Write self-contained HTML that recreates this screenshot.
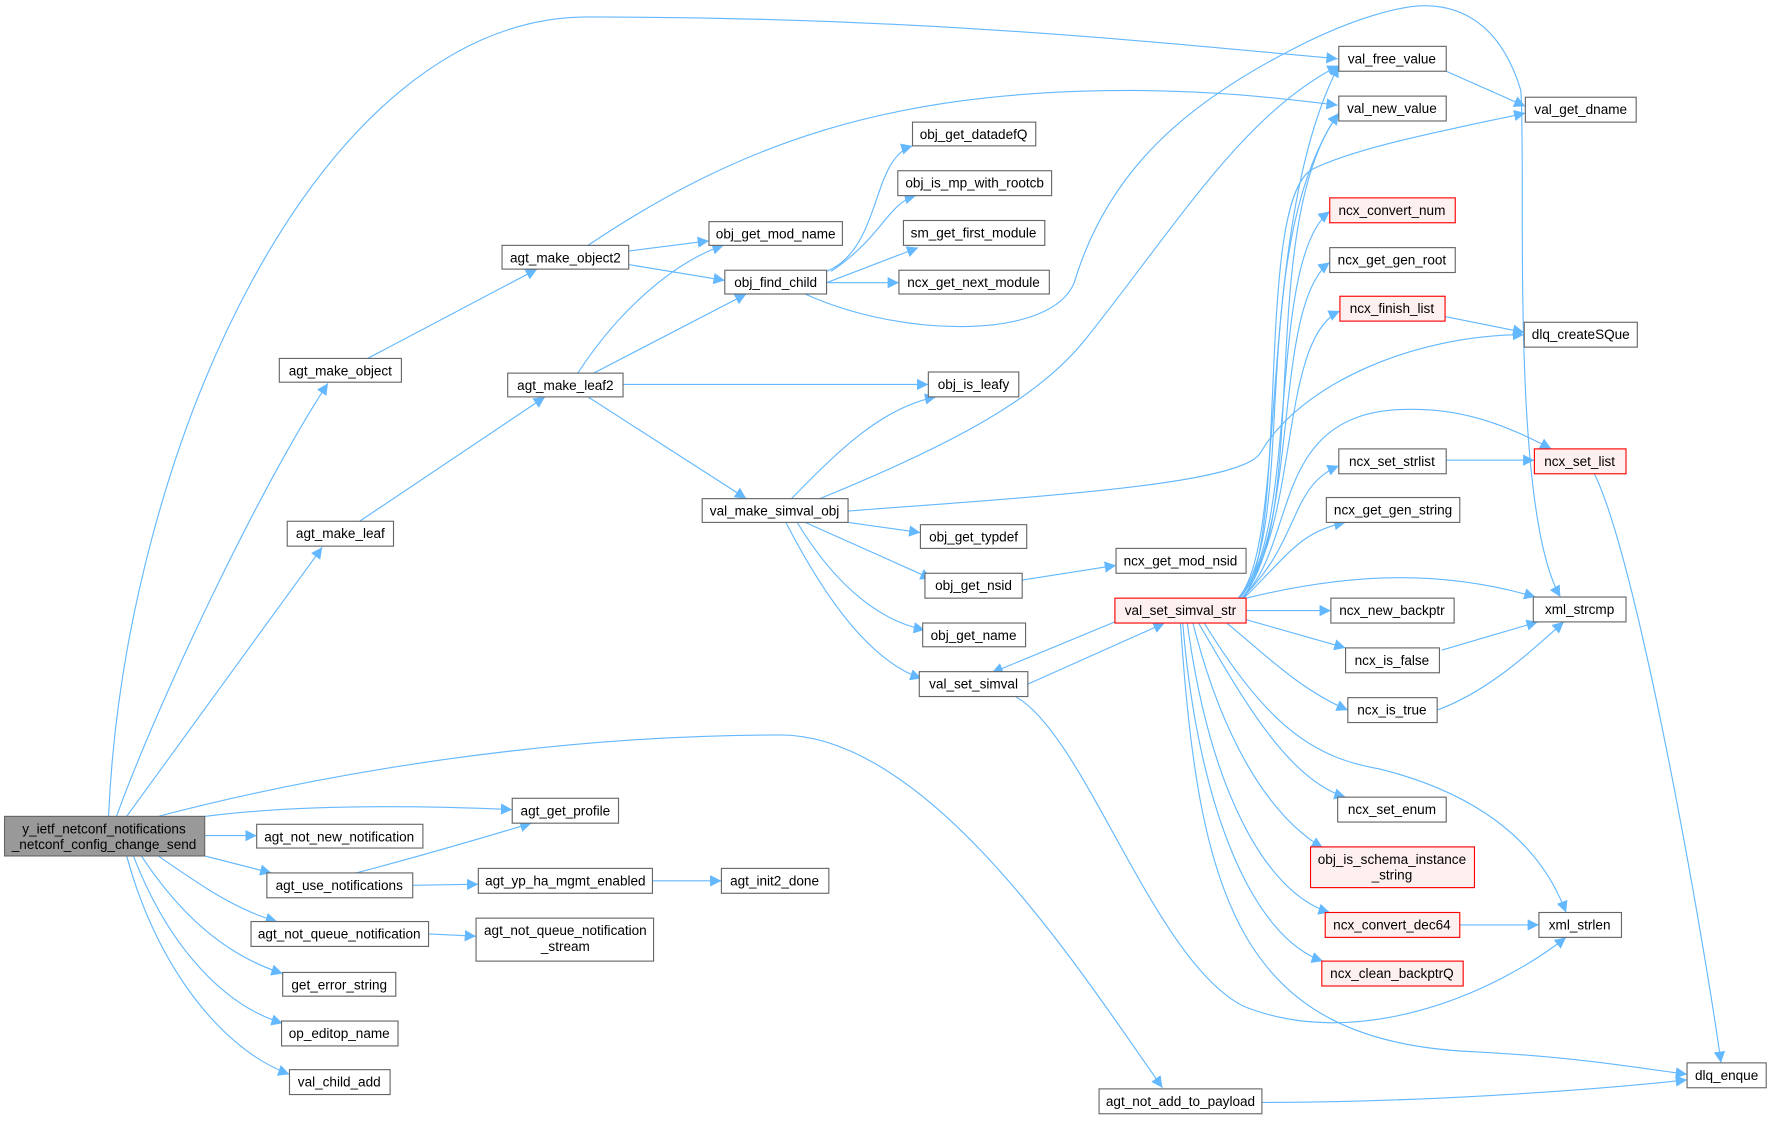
<!DOCTYPE html>
<html><head><meta charset="utf-8"><style>
html,body{margin:0;padding:0;background:#fff;}
svg{display:block;}
text{font-family:"Liberation Sans",Arial,sans-serif;font-size:12px;fill:#000;}
.n rect{fill:#fff;stroke:#666;stroke-width:1;}
.r rect{fill:#fff0f0;stroke:#f00;stroke-width:1;}
path.e{fill:none;stroke:#63b8ff;stroke-width:1;}
</style></head><body>
<svg width="1773" height="1121" viewBox="0 0 1568 991.4" xmlns="http://www.w3.org/2000/svg">
<defs><marker id="a" viewBox="0 0 10 10" refX="10" refY="5" markerWidth="10" markerHeight="10" markerUnits="userSpaceOnUse" orient="auto"><path d="M0,0 L10,5 L0,10 z" fill="#63b8ff"/></marker></defs>
<g marker-end="url(#a)">
<path class="e" d="M96,722 C110,400 280,15 520,15 C800,15 1000,35 1183,52"/>
<path class="e" d="M103,722 C140,620 230,430 290,339"/>
<path class="e" d="M112,722 L285,484"/>
<path class="e" d="M140,722 C300,680 500,650 690,650 C820,650 950,850 1028,962"/>
<path class="e" d="M181,722 C260,712 360,712 453,716"/>
<path class="e" d="M181,739 L227,739"/>
<path class="e" d="M181,757 L240,772"/>
<path class="e" d="M140,757 C180,785 210,805 245,815"/>
<path class="e" d="M125,757 C160,810 200,845 250,861"/>
<path class="e" d="M118,757 C150,840 200,890 250,905"/>
<path class="e" d="M112,757 C140,860 200,930 256,950"/>
<path class="e" d="M315,772 C380,755 430,740 470,728"/>
<path class="e" d="M365,783 L423,782"/>
<path class="e" d="M577,779 L638,779"/>
<path class="e" d="M379,826 L421,828"/>
<path class="e" d="M325,317 L475,238"/>
<path class="e" d="M318,461 L482,351"/>
<path class="e" d="M520,217 C650,130 780,80 1000,80 C1080,80 1140,88 1183,93"/>
<path class="e" d="M556,222 L627,213"/>
<path class="e" d="M556,234 L641,248"/>
<path class="e" d="M511,330 C550,270 600,230 640,217"/>
<path class="e" d="M525,330 L660,260"/>
<path class="e" d="M551,340 L821,340"/>
<path class="e" d="M520,351 L660,441"/>
<path class="e" d="M731,240 C780,220 770,140 807,129"/>
<path class="e" d="M735,240 C780,210 785,180 810,173"/>
<path class="e" d="M731,250 L812,219"/>
<path class="e" d="M731,250 L795,250"/>
<path class="e" d="M712,260 C800,300 930,300 950,250 C980,150 1050,90 1150,40 C1200,15 1240,5 1260,5 C1300,5 1330,30 1345,80 C1350,150 1335,450 1380,528"/>
<path class="e" d="M700,441 C740,400 780,360 828,351"/>
<path class="e" d="M725,441 C850,390 920,350 960,300 C1040,200 1100,100 1184,58"/>
<path class="e" d="M750,452 C900,440 1100,430 1115,400 C1150,340 1250,296 1348,296"/>
<path class="e" d="M750,462 L814,471"/>
<path class="e" d="M712,462 L824,512"/>
<path class="e" d="M705,462 C740,520 780,550 818,557"/>
<path class="e" d="M695,462 C730,530 770,585 815,600"/>
<path class="e" d="M904,513 L987,500"/>
<path class="e" d="M909,605 L1030,551"/>
<path class="e" d="M986,550 L877,595"/>
<path class="e" d="M898,616 C960,650 1020,850 1100,890 C1200,930 1320,880 1385,829"/>
<path class="e" d="M1095,529 C1140,480 1110,200 1184,58"/>
<path class="e" d="M1095,529 C1150,470 1100,220 1184,100"/>
<path class="e" d="M1098,529 C1160,460 1110,200 1184,100"/>
<path class="e" d="M1100,529 C1140,470 1110,180 1160,150 C1200,130 1280,115 1349,100"/>
<path class="e" d="M1096,529 C1150,470 1120,230 1176,187"/>
<path class="e" d="M1096,529 C1150,470 1125,270 1176,232"/>
<path class="e" d="M1096,529 C1150,470 1130,300 1185,275"/>
<path class="e" d="M1098,529 C1150,480 1120,360 1250,362 C1300,362 1340,380 1372,397"/>
<path class="e" d="M1098,529 C1150,480 1140,430 1184,412"/>
<path class="e" d="M1100,529 C1140,490 1150,470 1190,462"/>
<path class="e" d="M1102,540 L1177,540"/>
<path class="e" d="M1102,529 C1200,505 1280,505 1358,528"/>
<path class="e" d="M1102,548 L1190,573"/>
<path class="e" d="M1085,551 C1120,580 1150,610 1192,628"/>
<path class="e" d="M1275,575 L1360,550"/>
<path class="e" d="M1271,628 C1320,610 1360,570 1383,550"/>
<path class="e" d="M1060,551 C1100,620 1140,690 1190,705"/>
<path class="e" d="M1055,551 C1080,650 1120,720 1170,750"/>
<path class="e" d="M1050,551 C1070,700 1120,790 1176,807"/>
<path class="e" d="M1046,551 C1060,720 1110,830 1170,850"/>
<path class="e" d="M1065,551 C1120,640 1160,670 1220,680 C1300,700 1360,740 1385,807"/>
<path class="e" d="M1044,551 C1060,800 1100,920 1300,930 C1400,935 1450,945 1492,950"/>
<path class="e" d="M1279,63 L1349,94"/>
<path class="e" d="M1278,280 L1348,294"/>
<path class="e" d="M1279,407 L1357,407"/>
<path class="e" d="M1291,818 L1361,818"/>
<path class="e" d="M1410,419 C1450,500 1510,850 1522,940"/>
<path class="e" d="M1116,975 C1250,975 1400,965 1492,955"/>
</g>
<g class="n"><rect x="4" y="722" width="177" height="35" style="fill:#999"/><text x="92" y="737" text-anchor="middle">y_ietf_netconf_notifications</text><text x="92" y="751" text-anchor="middle">_netconf_config_change_send</text></g>
<g class="n"><rect x="247" y="317" width="108" height="21"/><text x="301" y="332" text-anchor="middle">agt_make_object</text></g>
<g class="n"><rect x="254" y="461" width="94" height="22"/><text x="301" y="476" text-anchor="middle">agt_make_leaf</text></g>
<g class="n"><rect x="444" y="217" width="112" height="21"/><text x="500" y="232" text-anchor="middle">agt_make_object2</text></g>
<g class="n"><rect x="449" y="330" width="102" height="21"/><text x="500" y="345" text-anchor="middle">agt_make_leaf2</text></g>
<g class="n"><rect x="627" y="196" width="118" height="21"/><text x="686" y="211" text-anchor="middle">obj_get_mod_name</text></g>
<g class="n"><rect x="641" y="239" width="90" height="21"/><text x="686" y="254" text-anchor="middle">obj_find_child</text></g>
<g class="n"><rect x="807" y="108" width="109" height="21"/><text x="861" y="123" text-anchor="middle">obj_get_datadefQ</text></g>
<g class="n"><rect x="794" y="151" width="136" height="22"/><text x="862" y="166" text-anchor="middle">obj_is_mp_with_rootcb</text></g>
<g class="n"><rect x="799" y="195" width="125" height="22"/><text x="861" y="210" text-anchor="middle">sm_get_first_module</text></g>
<g class="n"><rect x="795" y="239" width="133" height="21"/><text x="861" y="254" text-anchor="middle">ncx_get_next_module</text></g>
<g class="n"><rect x="821" y="329" width="80" height="22"/><text x="861" y="344" text-anchor="middle">obj_is_leafy</text></g>
<g class="n"><rect x="621" y="441" width="129" height="21"/><text x="685" y="456" text-anchor="middle">val_make_simval_obj</text></g>
<g class="n"><rect x="814" y="464" width="94" height="21"/><text x="861" y="479" text-anchor="middle">obj_get_typdef</text></g>
<g class="n"><rect x="818" y="507" width="86" height="22"/><text x="861" y="522" text-anchor="middle">obj_get_nsid</text></g>
<g class="n"><rect x="816" y="551" width="91" height="21"/><text x="861" y="566" text-anchor="middle">obj_get_name</text></g>
<g class="n"><rect x="813" y="594" width="96" height="22"/><text x="861" y="609" text-anchor="middle">val_set_simval</text></g>
<g class="n"><rect x="987" y="485" width="115" height="22"/><text x="1044" y="500" text-anchor="middle">ncx_get_mod_nsid</text></g>
<g class="r"><rect x="986" y="529" width="116" height="22"/><text x="1044" y="544" text-anchor="middle">val_set_simval_str</text></g>
<g class="n"><rect x="1184" y="41" width="95" height="22"/><text x="1231" y="56" text-anchor="middle">val_free_value</text></g>
<g class="n"><rect x="1184" y="85" width="95" height="22"/><text x="1231" y="100" text-anchor="middle">val_new_value</text></g>
<g class="n"><rect x="1349" y="86" width="98" height="22"/><text x="1398" y="101" text-anchor="middle">val_get_dname</text></g>
<g class="r"><rect x="1176" y="175" width="111" height="22"/><text x="1231" y="190" text-anchor="middle">ncx_convert_num</text></g>
<g class="n"><rect x="1176" y="219" width="111" height="22"/><text x="1231" y="234" text-anchor="middle">ncx_get_gen_root</text></g>
<g class="r"><rect x="1185" y="262" width="93" height="22"/><text x="1231" y="277" text-anchor="middle">ncx_finish_list</text></g>
<g class="n"><rect x="1348" y="285" width="100" height="22"/><text x="1398" y="300" text-anchor="middle">dlq_createSQue</text></g>
<g class="n"><rect x="1184" y="397" width="95" height="22"/><text x="1231" y="412" text-anchor="middle">ncx_set_strlist</text></g>
<g class="r"><rect x="1357" y="397" width="81" height="22"/><text x="1397" y="412" text-anchor="middle">ncx_set_list</text></g>
<g class="n"><rect x="1173" y="440" width="118" height="22"/><text x="1232" y="455" text-anchor="middle">ncx_get_gen_string</text></g>
<g class="n"><rect x="1177" y="529" width="109" height="22"/><text x="1231" y="544" text-anchor="middle">ncx_new_backptr</text></g>
<g class="n"><rect x="1356" y="528" width="82" height="22"/><text x="1397" y="543" text-anchor="middle">xml_strcmp</text></g>
<g class="n"><rect x="1190" y="573" width="83" height="22"/><text x="1231" y="588" text-anchor="middle">ncx_is_false</text></g>
<g class="n"><rect x="1192" y="617" width="79" height="22"/><text x="1231" y="632" text-anchor="middle">ncx_is_true</text></g>
<g class="n"><rect x="1183" y="705" width="96" height="22"/><text x="1231" y="720" text-anchor="middle">ncx_set_enum</text></g>
<g class="r"><rect x="1159" y="749" width="145" height="36"/><text x="1231" y="764" text-anchor="middle">obj_is_schema_instance</text><text x="1231" y="778" text-anchor="middle">_string</text></g>
<g class="r"><rect x="1172" y="807" width="119" height="22"/><text x="1231" y="822" text-anchor="middle">ncx_convert_dec64</text></g>
<g class="n"><rect x="1361" y="807" width="73" height="22"/><text x="1397" y="822" text-anchor="middle">xml_strlen</text></g>
<g class="r"><rect x="1169" y="850" width="125" height="22"/><text x="1231" y="865" text-anchor="middle">ncx_clean_backptrQ</text></g>
<g class="n"><rect x="1492" y="940" width="70" height="22"/><text x="1527" y="955" text-anchor="middle">dlq_enque</text></g>
<g class="n"><rect x="972" y="963" width="144" height="22"/><text x="1044" y="978" text-anchor="middle">agt_not_add_to_payload</text></g>
<g class="n"><rect x="453" y="706" width="94" height="22"/><text x="500" y="721" text-anchor="middle">agt_get_profile</text></g>
<g class="n"><rect x="227" y="729" width="147" height="21"/><text x="300" y="744" text-anchor="middle">agt_not_new_notification</text></g>
<g class="n"><rect x="236" y="772" width="129" height="22"/><text x="300" y="787" text-anchor="middle">agt_use_notifications</text></g>
<g class="n"><rect x="423" y="768" width="154" height="22"/><text x="500" y="783" text-anchor="middle">agt_yp_ha_mgmt_enabled</text></g>
<g class="n"><rect x="638" y="768" width="95" height="22"/><text x="685" y="783" text-anchor="middle">agt_init2_done</text></g>
<g class="n"><rect x="222" y="815" width="157" height="22"/><text x="300" y="830" text-anchor="middle">agt_not_queue_notification</text></g>
<g class="n"><rect x="421" y="812" width="157" height="38"/><text x="500" y="827" text-anchor="middle">agt_not_queue_notification</text><text x="500" y="841" text-anchor="middle">_stream</text></g>
<g class="n"><rect x="250" y="860" width="100" height="21"/><text x="300" y="875" text-anchor="middle">get_error_string</text></g>
<g class="n"><rect x="249" y="903" width="103" height="22"/><text x="300" y="918" text-anchor="middle">op_editop_name</text></g>
<g class="n"><rect x="256" y="946" width="89" height="22"/><text x="300" y="961" text-anchor="middle">val_child_add</text></g>
</svg>
</body></html>
